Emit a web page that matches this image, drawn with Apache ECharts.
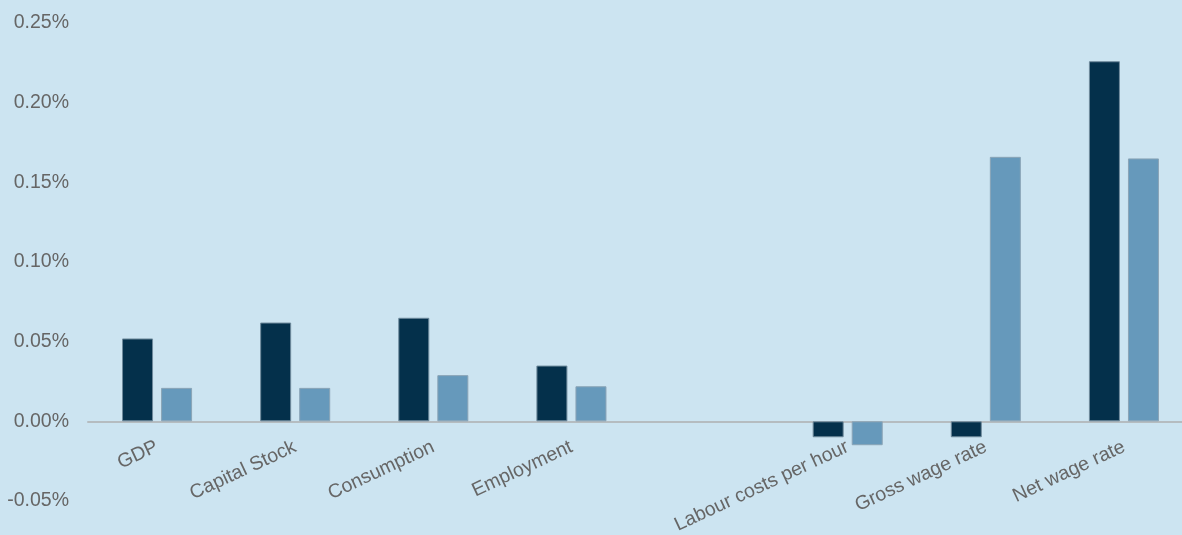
<!DOCTYPE html>
<html>
<head>
<meta charset="utf-8">
<script src="https://cdn.jsdelivr.net/npm/echarts@6/dist/echarts.min.js"></script>
<style>
  html, body { margin: 0; padding: 0; background: #cce4f1; }
  #chart { width: 1182px; height: 535px; }
</style>
</head>
<body>
<div id="chart"></div>
<script>
// Categories (an empty slot separates the two groups)
const categories = ['GDP', 'Capital Stock', 'Consumption', 'Employment', '', 'Labour costs per hour', 'Gross wage rate', 'Net wage rate'];
// Values in percent
const seriesDark = [0.052, 0.062, 0.065, 0.035, null, -0.010, -0.010, 0.226];
const seriesLight = [0.021, 0.021, 0.029, 0.022, null, -0.015, 0.166, 0.165];
const yTicks = { min: -0.05, max: 0.25, step: 0.05 };

const chart = echarts.init(document.getElementById('chart'));
const labelFont = { fontFamily: '"Liberation Sans", Arial, sans-serif', fontSize: 19.5, color: '#666666' };

chart.setOption({
  backgroundColor: '#cce4f1',
  animation: false,
  grid: { left: 88, right: -11, top: 23, bottom: 34, containLabel: false, outerBoundsMode: 'none' },
  xAxis: {
    type: 'category',
    data: categories,
    axisLine: { show: true, onZero: true, lineStyle: { color: '#b5bcc0', width: 2 } },
    axisTick: { show: false },
    // labels sit just under the zero line rather than at the grid bottom
    axisLabel: Object.assign({ rotate: 25, margin: -55, interval: 0 }, labelFont),
    splitLine: { show: false }
  },
  yAxis: {
    type: 'value',
    min: yTicks.min,
    max: yTicks.max,
    interval: yTicks.step,
    axisLine: { show: false },
    axisTick: { show: false },
    splitLine: { show: false },
    axisLabel: Object.assign({ margin: 19, formatter: v => v.toFixed(2) + '%' }, labelFont)
  },
  series: [
    {
      type: 'bar',
      data: seriesDark,
      barWidth: 31,
      barGap: '26%',
      itemStyle: { color: '#04304b', borderColor: '#6f8a9c', borderWidth: 1 }
    },
    {
      type: 'bar',
      data: seriesLight,
      barWidth: 31,
      itemStyle: { color: '#6699bb', borderColor: '#8aa4b6', borderWidth: 1 }
    }
  ]
});
</script>
</body>
</html>
